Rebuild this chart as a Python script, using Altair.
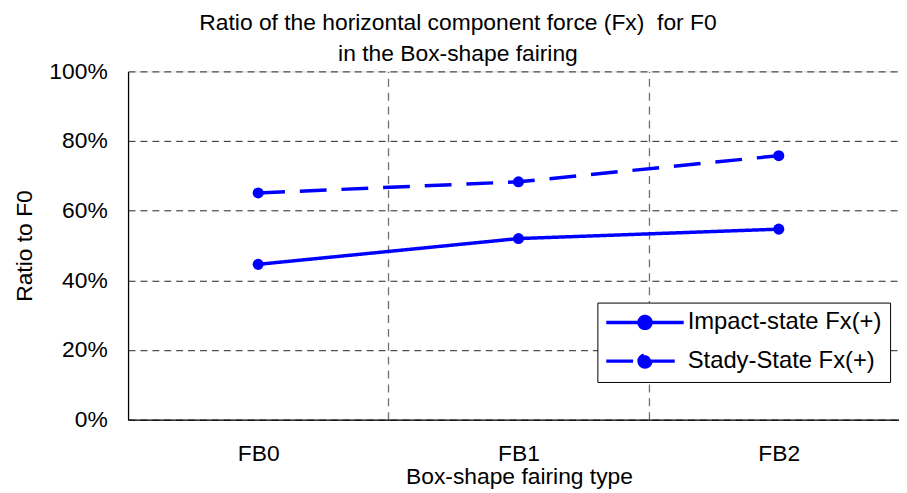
import altair as alt
import pandas as pd

# ---- data ----
categories = ["FB0", "FB1", "FB2"]
impact_state = [0.446, 0.520, 0.547]
steady_state = [0.651, 0.683, 0.758]
series_names = ["Impact-state Fx(+)", "Stady-State Fx(+)"]
y_ticks = [0, 0.2, 0.4, 0.6, 0.8, 1.0]
boundaries = [0.5, 1.5]

rows = []
for i, c in enumerate(categories):
    rows.append({"pos": i, "cat": c, "value": impact_state[i], "series": series_names[0]})
    rows.append({"pos": i, "cat": c, "value": steady_state[i], "series": series_names[1]})
df = pd.DataFrame(rows)

FONT = "Liberation Sans"
BLUE = "#0000FF"
FS = 23

label_expr = "[" + ",".join("'%s'" % c for c in categories) + "][datum.value]"

x_scale = alt.Scale(domain=[-0.5, 2.462], nice=False, zero=False)
y_scale = alt.Scale(domain=[0, 1], nice=False, zero=True)

y_axis = alt.Axis(values=y_ticks, format=".0%", grid=True, gridDash=[7, 5],
                  gridColor="#222222", gridWidth=1, gridOpacity=1,
                  ticks=False, domain=True, domainColor="black", domainWidth=1.3,
                  labelFont=FONT, labelFontSize=FS, labelColor="black",
                  labelPadding=21, title="Ratio to F0", titleFont=FONT,
                  titleFontSize=FS, titleFontWeight="normal", titleColor="black",
                  titleX=-97, titleY=175.5, titleBaseline="alphabetic",
                  titleAngle=270)

legend_path = "M-3.9,0H3.9M0.6,0A0.6,0.6,0,1,1,-0.6,0A0.6,0.6,0,1,1,0.6,0Z"

lines = alt.Chart(df).mark_line(color=BLUE, strokeWidth=3.5).encode(
    x=alt.X("pos:Q", scale=x_scale,
            axis=alt.Axis(orient="top", values=boundaries, grid=True, labels=False,
                          ticks=False, domain=False, title=None,
                          gridDash=[8, 6], gridColor="#707070", gridWidth=1.3,
                          gridOpacity=1)),
    y=alt.Y("value:Q", scale=y_scale, axis=y_axis),
    strokeDash=alt.StrokeDash(
        "series:N",
        scale=alt.Scale(domain=series_names, range=[[1, 0], [27, 15]]),
        legend=alt.Legend(title=None, orient="none", legendX=473, legendY=233,
                          symbolType=legend_path, symbolSize=400,
                          symbolStrokeWidth=3.5, symbolFillColor=BLUE,
                          symbolStrokeColor=BLUE, symbolOffset=28,
                          labelOffset=31, labelFont=FONT, labelFontSize=24,
                          labelColor="black", labelLimit=400,
                          strokeColor="black", fillColor="white", padding=8,
                          rowPadding=13, cornerRadius=0),
    ),
)

points = alt.Chart(df).mark_point(filled=True, size=125, color=BLUE, opacity=1).encode(
    x=alt.X("pos:Q", scale=x_scale,
            axis=alt.Axis(orient="bottom", values=[0, 1, 2], labelExpr=label_expr,
                          grid=False, ticks=False, domain=True, domainColor="black",
                          domainWidth=1.3, labelFlush=False, labelOverlap=False,
                          labelFont=FONT, labelFontSize=FS, labelColor="black",
                          labelPadding=23, title="Box-shape fairing type",
                          titleFont=FONT, titleFontSize=FS, titleFontWeight="normal",
                          titleColor="black", titleX=394, titleY=64,
                          titleBaseline="alphabetic")),
    y=alt.Y("value:Q", scale=y_scale, axis=y_axis),
    detail="series:N",
)

chart = alt.layer(lines, points).resolve_axis(x="independent").properties(
    width=777,
    height=351,
    padding={"left": 121, "top": 62, "right": 0, "bottom": 70},
    autosize=alt.AutoSizeParams(type="none"),
    title=alt.TitleParams(
        ["Ratio of the horizontal component force (Fx)\u00a0 for F0",
         "in the Box-shape fairing"],
        font=FONT, fontSize=FS, fontWeight="normal", color="black",
        lineHeight=32, anchor="middle", dx=-56, offset=-6),
).configure_view(stroke=None).configure(background="white")

chart.save("out.html", embed_options={"renderer": "svg", "actions": False})
